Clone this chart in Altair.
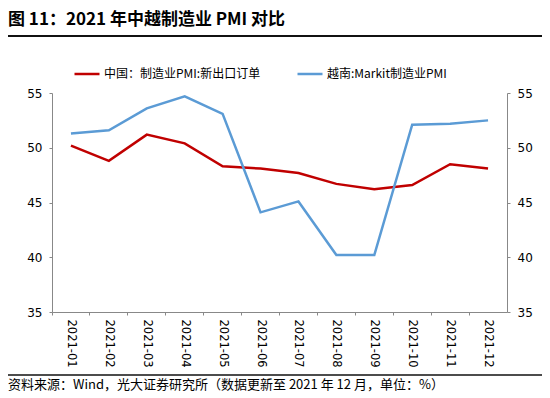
import altair as alt
import pandas as pd

months = ["2021-01", "2021-02", "2021-03", "2021-04", "2021-05", "2021-06",
          "2021-07", "2021-08", "2021-09", "2021-10", "2021-11", "2021-12"]
china = [50.2, 48.8, 51.2, 50.4, 48.3, 48.1, 47.7, 46.7, 46.2, 46.6, 48.5, 48.1]
vietnam = [51.3, 51.6, 53.6, 54.7, 53.1, 44.1, 45.1, 40.2, 40.2, 52.1, 52.2, 52.5]
series_names = ["中国：制造业PMI:新出口订单", "越南:Markit制造业PMI"]
colors = ["#C00000", "#5B9BD5"]
y_ticks = [35, 40, 45, 50, 55]
title_text = "图 11：2021 年中越制造业 PMI 对比"
source_text = "资料来源：Wind，光大证券研究所（数据更新至 2021 年 12 月，单位：%）"

df = pd.DataFrame({
    "month": months * 2,
    "value": china + vietnam,
    "series": [series_names[0]] * len(months) + [series_names[1]] * len(months),
})

W, H = 455, 219
CJK = "Noto Sans CJK SC"
NUM = "DejaVu Sans"
AX = "#888888"

x_enc = alt.X(
    "month:O", sort=months, bandPosition=0.5,
    scale=alt.Scale(type="band", paddingInner=0, paddingOuter=0),
    axis=alt.Axis(title=None, bandPosition=0, labelAngle=90, labelAlign="left",
                  labelBaseline="middle", labelPadding=4,
                  labelFont=NUM, labelFontSize=11.5, labelColor="#000",
                  domainColor=AX, tickColor=AX, tickSize=3, grid=False),
)

yscale = alt.Scale(domain=[35, 55], nice=False, zero=False)

lines = alt.Chart(df).mark_line(strokeWidth=2.5).encode(
    x=x_enc,
    y=alt.Y("value:Q", scale=yscale,
            axis=alt.Axis(title=None, values=y_ticks, grid=False, orient="left",
                          domainColor=AX, tickColor=AX, tickSize=3, labelPadding=7,
                          labelFont=NUM, labelFontSize=12, labelColor="#000")),
    color=alt.Color(
        "series:N",
        scale=alt.Scale(domain=series_names, range=colors),
        legend=alt.Legend(title=None, orient="none", legendX=21, legendY=-33,
                          direction="horizontal", symbolType="stroke",
                          symbolSize=625, symbolStrokeWidth=2.5,
                          labelFont=CJK, labelFontSize=12, labelColor="#000",
                          columnPadding=31, labelOffset=3, padding=0),
    ),
)

right = alt.Chart(df).mark_line(opacity=0).encode(
    x=x_enc,
    y=alt.Y("value:Q", scale=yscale,
            axis=alt.Axis(title=None, values=y_ticks, grid=False, orient="right",
                          domainColor=AX, tickColor=AX, tickSize=3, labelPadding=7,
                          labelFont=NUM, labelFontSize=12, labelColor="#000")),
    detail="series:N",
)

title = alt.Chart(pd.DataFrame({"t": [title_text]})).mark_text(
    align="left", baseline="alphabetic", font=CJK, fontSize=17, fontWeight="bold",
    color="#000"
).encode(x=alt.value(-44), y=alt.value(-68), text="t:N")

title_rule = alt.Chart(pd.DataFrame({"a": [0]})).mark_rule(
    color="#111", strokeWidth=2
).encode(x=alt.value(-44), x2=alt.value(490), y=alt.value(-57))

source_rule = alt.Chart(pd.DataFrame({"a": [0]})).mark_rule(
    color="#111", strokeWidth=1.5
).encode(x=alt.value(-44), x2=alt.value(490), y=alt.value(282))

source = alt.Chart(pd.DataFrame({"t": [source_text]})).mark_text(
    align="left", baseline="alphabetic", font=CJK, fontSize=13, color="#000"
).encode(x=alt.value(-44), y=alt.value(296), text="t:N")

chart = alt.layer(lines, right, title, title_rule, source_rule, source).resolve_scale(
    y="independent"
).properties(
    width=W, height=H,
    autosize=alt.AutoSizeParams(type="none"),
    padding={"left": 44, "top": 85, "right": 35, "bottom": 84},
).configure_view(stroke=None)

chart.save("out.html", embed_options={"renderer": "svg", "actions": False})
